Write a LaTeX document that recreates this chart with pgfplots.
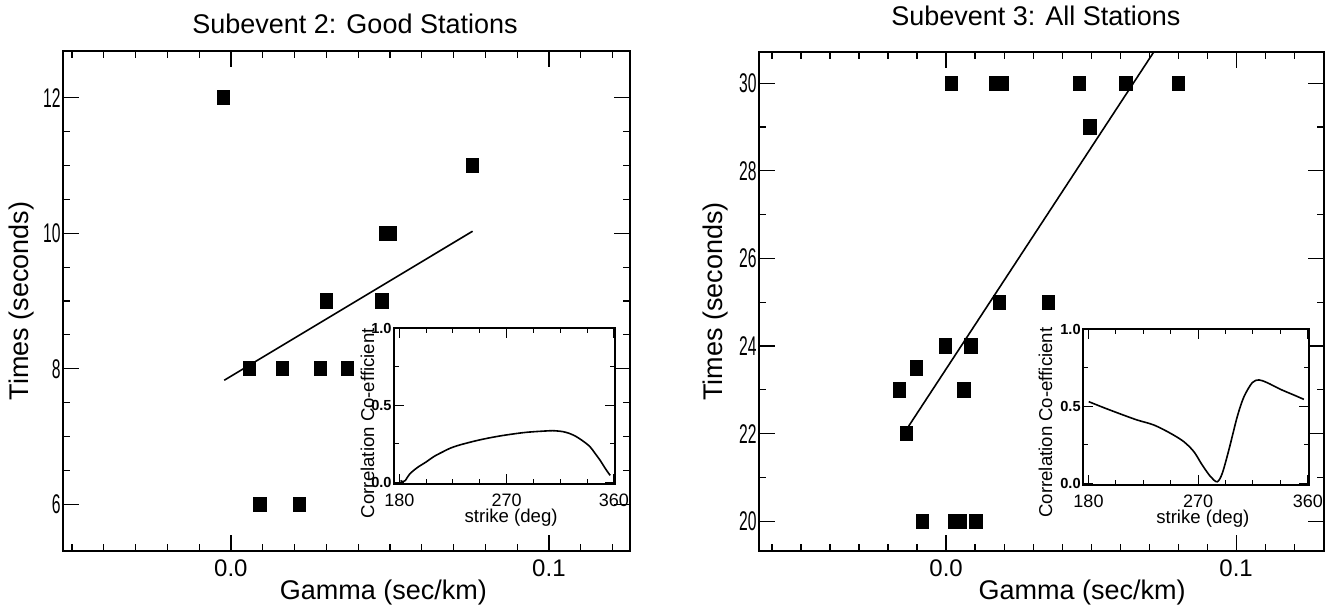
\documentclass[border=0pt]{standalone}
\usepackage{fontspec}
\setmainfont{Liberation Sans}
\newfontfamily\narrowfont[FakeStretch=0.58]{Liberation Sans}
\newcommand\titlefont{\fontsize{13.5}{16}\selectfont}
\newcommand\labelfont{\fontsize{13.5}{16}\selectfont}
\newcommand\xtickfont{\fontsize{12}{14}\selectfont}
\newcommand\ytickfont{\narrowfont\fontsize{13.5}{16}\selectfont}
\newcommand\insetfont{\fontsize{9.3}{11}\selectfont}
\newcommand\insetxtick{\fontsize{9}{10}\selectfont}
\newcommand\insetytick{\bfseries\fontsize{7.3}{8}\selectfont}
\usepackage{pgfplots}
\pgfplotsset{compat=1.18}

\pgfplotsset{
  mainax/.style={
    scale only axis, anchor=south west,
    axis line style={line width=0.9pt},
    tick align=inside,
    major tick length=8pt, minor tick length=3.7pt,
    every tick/.style={black, line width=0.6pt},
    /pgf/number format/assume math mode=true,
    xtick={0,0.1}, xticklabels={0.0,0.1},
    xlabel={Gamma (sec/km)},
    ylabel={Times (seconds)},
  },
  insetax/.style={
    scale only axis, anchor=south west,
    axis background/.style={fill=white},
    axis line style={line width=0.8pt},
    xmin=175.5, xmax=361, ymin=-0.011, ymax=1,
    xtick={180,270,360}, minor x tick num=3,
    ytick={0,0.5,1}, yticklabels={0.0,0.5,1.0}, minor y tick num=1,
    tick align=inside,
    major tick length=5pt, minor tick length=2.5pt,
    every tick/.style={black, line width=0.5pt},
    /pgf/number format/assume math mode=true,
    xlabel={strike (deg)},
    ylabel={Correlation Co-efficient},
  },
  datapts/.style={only marks, mark=square*, mark size=3.1pt, mark options={fill=black, draw=black, yscale=1.15}},
  fitline/.style={black, line width=0.8pt, no marks},
}

\begin{document}
\begin{tikzpicture}
\useasboundingbox (0,0) rectangle (662.5pt,305pt);

% left: subevent 2
\begin{axis}[mainax,
  at={(31.5pt,29.5pt)}, width=283.5pt, height=250pt,
  xmin=-0.0528, xmax=0.1255, ymin=5.31, ymax=12.69,
  minor xtick={-0.05,-0.04,...,0.12},
  ytick={6,8,10,12}, minor y tick num=3,
  x tick label style={font=\xtickfont, anchor=base, yshift=-12.5pt},
  y tick label style={font=\ytickfont, inner sep=1pt},
  every axis x label/.style={font=\labelfont, at={(axis description cs:0.565,0)}, anchor=base, yshift=-24pt},
  every axis y label/.style={font=\labelfont, at={(axis description cs:-0.06,0.5)}, rotate=90, anchor=base},
  title={Subevent 2: Good Stations},
  every axis title/.style={font=\titlefont, at={(axis description cs:0.515,1)}, anchor=base, yshift=9pt},
]
\addplot[datapts] coordinates {
  (-0.0024,12) (0.076,11) (0.0486,10) (0.0502,10) (0.030,9) (0.0475,9)
  (0.0058,8) (0.0162,8) (0.0281,8) (0.0367,8) (0.0091,6) (0.0216,6)
};
\addplot[fitline] coordinates {(-0.0021,7.83) (0.076,10.03)};
\end{axis}

\begin{axis}[insetax,
  at={(197pt,63pt)}, width=110.5pt, height=78pt,
  x tick label style={font=\insetxtick, anchor=base, yshift=-11.5pt},
  y tick label style={font=\insetytick, inner sep=1pt},
  every axis x label/.style={font=\insetfont, at={(axis description cs:0.53,0)}, anchor=base, yshift=-19.5pt},
  every axis y label/.style={font=\insetfont, at={(axis description cs:-0.09,0.39)}, rotate=90, anchor=base},
]
\addplot[fitline, smooth] coordinates {
  (181,0.012) (183,0.003) (185,0.012) (188.7,0.054) (195,0.095) (202.7,0.133)
  (209,0.167) (216.6,0.198) (223,0.222) (230.7,0.242) (244.7,0.27) (257,0.29)
  (269.9,0.307) (286.7,0.324) (306.3,0.334) (312,0.333) (317.5,0.328) (323,0.316)
  (328.5,0.296) (334,0.268) (340,0.231) (344,0.19) (348.3,0.145) (352,0.1)
  (355.3,0.062) (357,0.045)
};
\end{axis}

% right: subevent 3
\begin{axis}[mainax,
  at={(379.5pt,29.5pt)}, width=282.5pt, height=249.5pt,
  xmin=-0.0645, xmax=0.1303, ymin=19.32, ymax=30.71,
  minor xtick={-0.06,-0.05,...,0.13},
  ytick={20,22,...,30}, minor y tick num=1,
  x tick label style={font=\xtickfont, anchor=base, yshift=-12.5pt},
  y tick label style={font=\ytickfont, inner sep=1pt},
  every axis x label/.style={font=\labelfont, at={(axis description cs:0.572,0)}, anchor=base, yshift=-24pt},
  every axis y label/.style={font=\labelfont, at={(axis description cs:-0.064,0.5)}, rotate=90, anchor=base},
  title={Subevent 3: All Stations},
  every axis title/.style={font=\titlefont, at={(axis description cs:0.49,1)}, anchor=base, yshift=13pt},
]
\addplot[datapts] coordinates {
  (0.0019,30) (0.0172,30) (0.0194,30) (0.046,30) (0.062,30) (0.080,30)
  (0.0496,29) (0.0184,25) (0.0353,25) (-0.0003,24) (0.0085,24)
  (-0.0103,23.5) (-0.0162,23) (0.0062,23) (-0.0137,22)
  (-0.0081,20) (0.003,20) (0.005,20) (0.0103,20)
};
\addplot[fitline] coordinates {(-0.0129,22.17) (0.0716,30.71)};
\end{axis}

\begin{axis}[insetax,
  at={(541.5pt,62.5pt)}, width=113pt, height=78pt,
  x tick label style={font=\insetxtick, anchor=base, yshift=-11.5pt},
  y tick label style={font=\insetytick, inner sep=1pt},
  every axis x label/.style={font=\insetfont, at={(axis description cs:0.53,0)}, anchor=base, yshift=-19.5pt},
  every axis y label/.style={font=\insetfont, at={(axis description cs:-0.137,0.4)}, rotate=90, anchor=base},
]
\addplot[fitline, smooth] coordinates {
  (180.2,0.529) (192.6,0.49) (206.3,0.449) (220,0.41) (233.6,0.378) (247.3,0.324)
  (258.2,0.27) (266.5,0.205) (273.3,0.119) (280.2,0.043) (285.7,0.01) (289.8,0.065)
  (295.2,0.216) (302.1,0.432) (307.6,0.561) (314.4,0.652) (319.9,0.67) (326.7,0.652)
  (337.6,0.609) (348.6,0.572) (356.8,0.544)
};
\end{axis}
\end{tikzpicture}
\end{document}
